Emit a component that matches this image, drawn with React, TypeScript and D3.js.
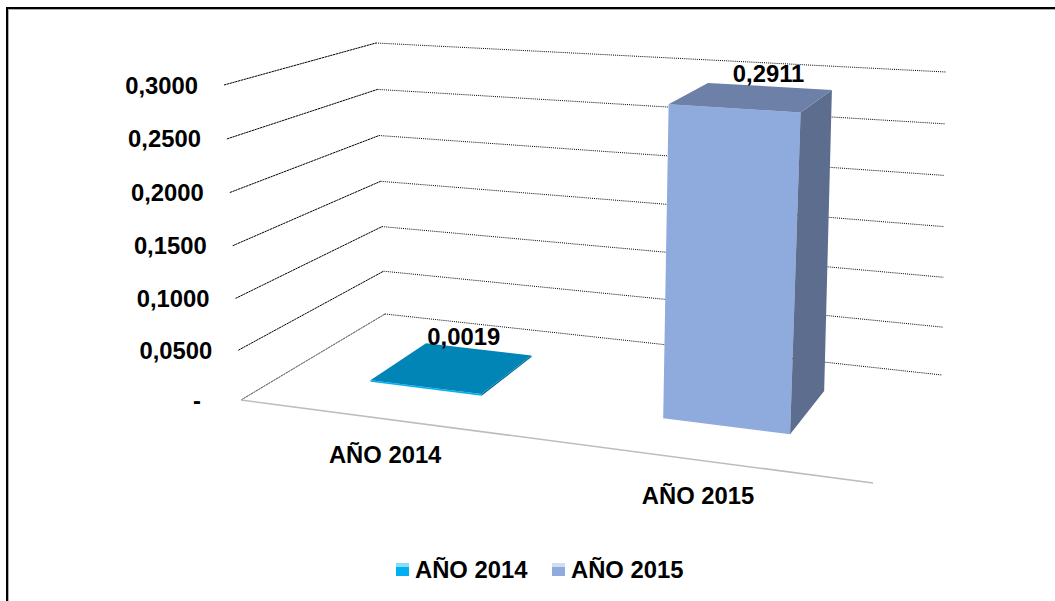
import React from "react";
import * as d3 from "d3";

const categories = ["AÑO 2014", "AÑO 2015"];
const values = [0.0019, 0.2911];
const valueLabels = ["0,0019", "0,2911"];
const ticks = [0, 0.05, 0.1, 0.15, 0.2, 0.25, 0.3];
const tickLabels = ["-", "0,0500", "0,1000", "0,1500", "0,2000", "0,2500", "0,3000"];
const frontColors = ["#00B0F0", "#8FAADC"];
const topColors = ["#0085B6", "#6C80A8"];
const sideColors = ["#006C94", "#5C6D8E"];
const legendStripes = ["#8ADCF9", "#D3DDF1"];
const barStart = [0.135, 0.617];
const barEnd = [0.318, 0.826];
const labelShift = [-15, 3];

const W = 1055;
const H = 601;
const FONT = "'Liberation Sans', Arial, sans-serif";

// 3D chart box: bilinear floor plus a vertical lift that varies across it
const floor = { fl: [241, 400], fr: [873, 483], bl: [385, 314], br: [942, 375] };
const liftH = { fl: 315, fr: 356, bl: 271, br: 303 };
const flare = { fl: -17, fr: 14, bl: -9, br: 4 };
const barTopShift = 4.5;
const t = d3.scalePow().exponent(1.03).domain([0, 0.3]).range([0, 1]);

function bi(c: { fl: number; fr: number; bl: number; br: number }, u: number, w: number) {
  return d3.interpolateNumber(
    d3.interpolateNumber(c.fl, c.fr)(u),
    d3.interpolateNumber(c.bl, c.br)(u)
  )(w);
}
function proj(u: number, w: number, v: number): [number, number] {
  const fx = { fl: floor.fl[0], fr: floor.fr[0], bl: floor.bl[0], br: floor.br[0] };
  const fy = { fl: floor.fl[1], fr: floor.fr[1], bl: floor.bl[1], br: floor.br[1] };
  const k = t(v);
  return [bi(fx, u, w) + bi(flare, u, w) * k, bi(fy, u, w) - bi(liftH, u, w) * k];
}
function barProj(u: number, w: number, v: number): [number, number] {
  const p = proj(u, w, v);
  return [p[0] + barTopShift * t(v), p[1]];
}

const D0 = 0.33;
const D1 = 0.745;
const line = d3.line();
const poly = (pts: [number, number][]) => line(pts)! + "Z";

export default function App() {
  return (
    <svg
      width={W}
      height={H}
      viewBox={`0 0 ${W} ${H}`}
      style={{ position: "absolute", left: 0, top: 0, display: "block", background: "#fff" }}
      fontFamily={FONT}
      fontWeight="bold"
      fontSize={23.8}
    >
      {/* frame */}
      <path d={`M7 ${H}V8H${W}`} fill="none" stroke="#000" strokeWidth={2} />
      <path d={`M8.5 ${H}V9.5H${W}`} fill="none" stroke="#777" strokeWidth={0.6} />

      {/* gridlines */}
      {ticks.map((v, i) => {
        const a = proj(0, 0, v);
        const b = proj(0, 1, v);
        const c = proj(1, 1, v);
        return (
          <g key={v} fill="none">
            <path d={line([a, b])!} stroke={i === 0 ? "#444" : "#000"} strokeWidth={1} strokeDasharray="2.4 0.5" />
            <path d={line([b, c])!} stroke="#000" strokeWidth={1} strokeDasharray="1 1.1" />
            <text
              x={a[0] - (i === 0 ? 40 : 26)}
              y={a[1]}
              textAnchor="end"
              dominantBaseline="central"
              fill="#000"
              stroke="none"
            >
              {tickLabels[i]}
            </text>
          </g>
        );
      })}

      {/* floor front edge */}
      <path d={line([proj(0, 0, 0), proj(1, 0, 0)])!} fill="none" stroke="#BDBDBD" strokeWidth={1.6} />

      {/* bars */}
      {values.map((v, i) => {
        const u0 = barStart[i];
        const u1 = barEnd[i];
        const fbl = proj(u0, D0, 0);
        const fbr = proj(u1, D0, 0);
        const bbr = proj(u1, D1, 0);
        const ftl = barProj(u0, D0, v);
        const ftr = barProj(u1, D0, v);
        const btl = barProj(u0, D1, v);
        const btr = barProj(u1, D1, v);
        const lx = proj((u0 + u1) / 2, D1, v);
        return (
          <g key={categories[i]}>
            <path d={poly([fbl, fbr, ftr, ftl])} fill={frontColors[i]} />
            <path d={poly([fbr, bbr, btr, ftr])} fill={sideColors[i]} />
            <path d={poly([ftl, ftr, btr, btl])} fill={topColors[i]} />
            <text x={lx[0] + labelShift[i]} y={lx[1] - 13} textAnchor="middle" dominantBaseline="central" fill="#000">
              {valueLabels[i]}
            </text>
          </g>
        );
      })}

      {/* category labels */}
      {categories.map((c, i) => {
        const p = proj((barStart[i] + barEnd[i]) / 2, 0, 0);
        return (
          <text key={c} x={p[0] + 1} y={p[1] + 36} textAnchor="middle" dominantBaseline="central" fill="#000">
            {c}
          </text>
        );
      })}

      {/* legend */}
      {categories.map((c, i) => {
        const x = 396 + i * 156;
        return (
          <g key={c}>
            <rect x={x} y={563} width={13} height={13} fill={frontColors[i]} />
            <rect x={x} y={563} width={13} height={4} fill={legendStripes[i]} />
            <text x={x + 19} y={578} fill="#000">
              {c}
            </text>
          </g>
        );
      })}
    </svg>
  );
}
